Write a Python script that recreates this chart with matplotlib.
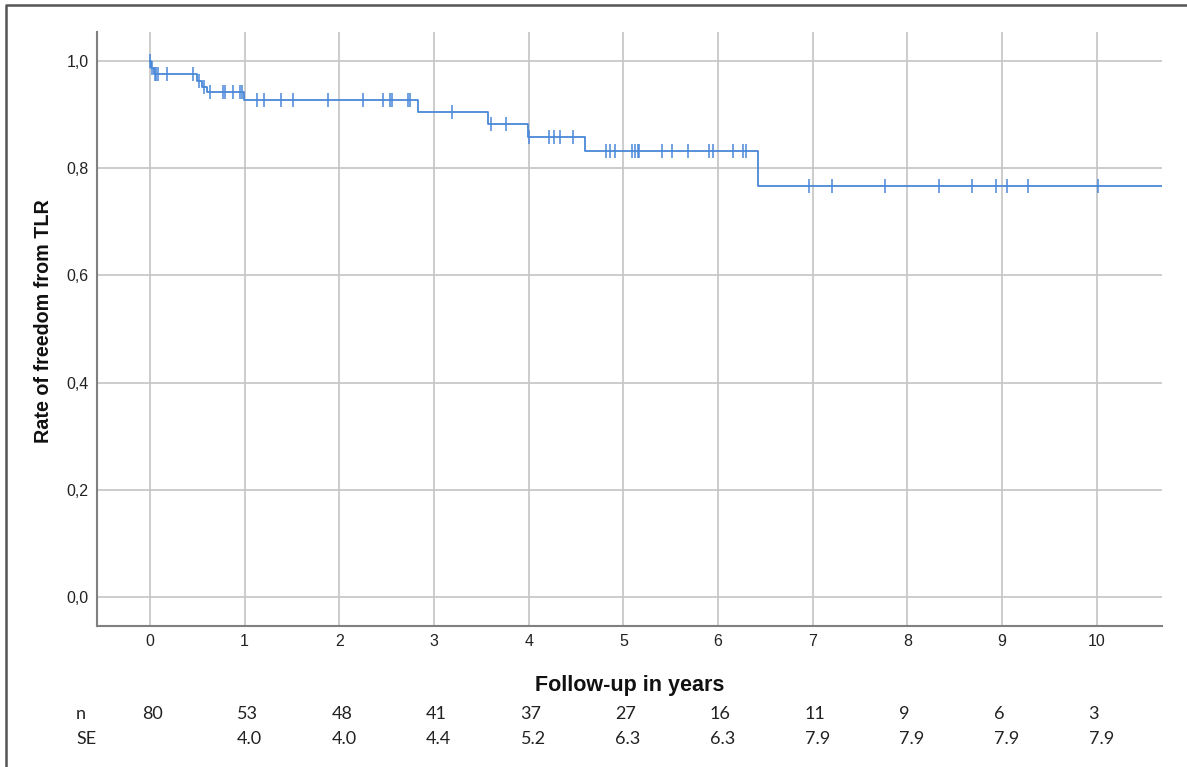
import numpy as np
import matplotlib
matplotlib.use("Agg")
import matplotlib.pyplot as plt
from matplotlib.lines import Line2D
from matplotlib.ticker import FuncFormatter
import matplotlib.transforms as mtransforms

plt.rcParams["font.family"] = ["Liberation Sans", "DejaVu Sans"]

# ---- data ----
step_times = [0.0, 0.01, 0.04, 0.50, 0.55, 0.60, 0.99, 2.83, 3.57, 3.99, 4.59, 6.42]
step_surv = [1.0, 0.987, 0.975, 0.962, 0.951, 0.943, 0.927, 0.904, 0.882, 0.858, 0.832, 0.767]
censor_times = [0.0, 0.02, 0.05, 0.06, 0.08, 0.18, 0.45, 0.52, 0.57,
                0.63, 0.77, 0.79, 0.88, 0.95, 0.97,
                1.13, 1.20, 1.38, 1.51, 1.88, 2.25, 2.46, 2.53, 2.56, 2.73, 2.75,
                3.19, 3.60, 3.76,
                4.00, 4.21, 4.27, 4.33, 4.47,
                4.82, 4.86, 4.91, 5.09, 5.12, 5.16, 5.17, 5.41, 5.51, 5.68,
                5.91, 5.95, 6.16, 6.26, 6.30,
                6.96, 7.20, 7.76, 8.33, 8.68, 8.94, 9.05, 9.27, 10.01]
table_years = [0, 1, 2, 3, 4, 5, 6, 7, 8, 9, 10]
n_at_risk = ["80", "53", "48", "41", "37", "27", "16", "11", "9", "6", "3"]
se_values = ["", "4.0", "4.0", "4.4", "5.2", "6.3", "6.3", "7.9", "7.9", "7.9", "7.9"]
x_ticks = list(range(0, 11))
y_ticks = [0.0, 0.2, 0.4, 0.6, 0.8, 1.0]

blue = "#4a88d8"
W, H = 1187, 767
fig = plt.figure(figsize=(W / 100, H / 100), dpi=100)
ax = fig.add_axes([97 / W, 1 - 626 / H, (1162 - 97) / W, (626 - 32) / H])

xmin, xmax = -0.56, 10.69
ax.set_xlim(xmin, xmax)
ax.set_ylim(-0.054, 1.054)

# KM curve
ax.step(step_times + [xmax], step_surv + [step_surv[-1]], where="post",
        color=blue, lw=1.3, zorder=3)
idx = np.searchsorted(step_times, censor_times, side="right") - 1
cy = np.array(step_surv)[idx]
ax.plot(censor_times, cy, linestyle="none", marker="|", markersize=10,
        markeredgewidth=1.1, color=blue, zorder=4)

# grid & spines
ax.set_xticks(x_ticks)
ax.set_yticks(y_ticks)
ax.grid(True, color="#c4c4c4", lw=1.2)
ax.set_axisbelow(True)
for s in ["top", "right"]:
    ax.spines[s].set_visible(False)
for s in ["left", "bottom"]:
    ax.spines[s].set_color("#808080")
    ax.spines[s].set_linewidth(1.5)
ax.tick_params(length=0, labelsize=11.5, colors="#222222", pad=6)
ax.yaxis.set_major_formatter(FuncFormatter(lambda v, p: f"{v:.1f}".replace(".", ",")))

# axis labels
ax.text(0.5, (626 - 686) / 594, "Follow-up in years", transform=ax.transAxes,
        ha="center", va="center", fontsize=15.5, fontweight="bold", color="#111111")
fig.text(44 / W, 1 - 321 / H, "Rate of freedom from TLR", rotation=90,
         ha="center", va="center", fontsize=14.2, fontweight="bold", color="#111111")

# at-risk table
trans = mtransforms.blended_transform_factory(ax.transData, fig.transFigure)
shift = mtransforms.ScaledTranslation(-8 / 100, 0, fig.dpi_scale_trans)
y_n = 1 - 714 / H
y_se = 1 - 739 / H
tfont = dict(fontsize=13, family="Lato", color="#222222")
fig.text(76 / W, y_n, "n", ha="left", va="center", **tfont)
fig.text(76 / W, y_se, "SE", ha="left", va="center", **tfont)
for yr, nv, sv in zip(table_years, n_at_risk, se_values):
    ax.text(yr, y_n, nv, transform=trans + shift, ha="left", va="center",
            clip_on=False, **tfont)
    if sv:
        ax.text(yr, y_se, sv, transform=trans + shift, ha="left", va="center",
                clip_on=False, **tfont)

# outer frame (top and left edges visible)
fig.lines.append(Line2D([6 / W, 6 / W, 1.0], [0.0, 1 - 5 / H, 1 - 5 / H],
                        transform=fig.transFigure, color="#555555", lw=1.8))

fig.savefig("out.png", dpi=100)
